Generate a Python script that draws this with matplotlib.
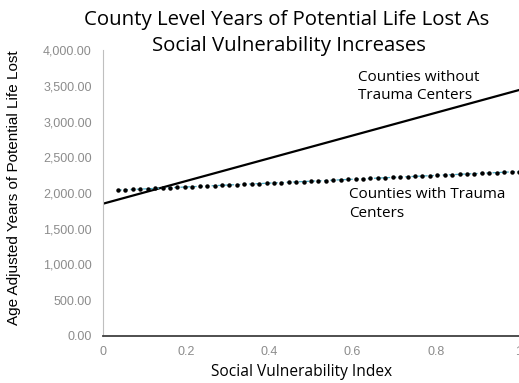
import matplotlib.pyplot as plt
from matplotlib.ticker import FuncFormatter

# trend line end points (SVI vs age adjusted YPLL)
svi_without = [0.0, 1.0]
ypll_without = [1850, 3440]
svi_with = [0.036, 1.0]
ypll_with = [2040, 2300]

x_ticks = [0, 0.2, 0.4, 0.6, 0.8, 1]
x_tick_labels = ["0", "0.2", "0.4", "0.6", "0.8", "1"]
y_ticks = [0, 500, 1000, 1500, 2000, 2500, 3000, 3500, 4000]

plt.rcParams['font.family'] = ['Open Sans', 'DejaVu Sans']
arial = ['Liberation Sans', 'DejaVu Sans']

fig = plt.figure(figsize=(5.19, 3.83), dpi=100)
ax = fig.add_axes([103 / 519, 47 / 383, 416 / 519, 286 / 383])

ax.plot(svi_without, ypll_without, color='black', lw=1.6)
ax.plot(svi_with, ypll_with, color='#4bacc6', lw=0.9, ls=(0, (3, 2)))
n_dots = 55
dx = [svi_with[0] + (svi_with[1] - svi_with[0]) * i / (n_dots - 1) for i in range(n_dots)]
dy = [ypll_with[0] + (ypll_with[1] - ypll_with[0]) * i / (n_dots - 1) for i in range(n_dots)]
ax.plot(dx, dy, ls='none', marker='o', ms=2.2, color='black')

ax.set_xlim(0, 1)
ax.set_ylim(0, 4000)
ax.set_xticks(x_ticks)
ax.set_xticklabels(x_tick_labels)
ax.set_yticks(y_ticks)
ax.yaxis.set_major_formatter(FuncFormatter(lambda v, p: f"{v:,.2f}"))
ax.tick_params(length=0, labelsize=9, labelcolor='#8c8c8c')
ax.tick_params(axis='y', pad=8)
ax.tick_params(axis='x', pad=7)
for lab in ax.get_xticklabels() + ax.get_yticklabels():
    lab.set_family(arial)

for s in ['top', 'right']:
    ax.spines[s].set_visible(False)
ax.spines['left'].set_color('#bfbfbf')
ax.spines['left'].set_linewidth(0.8)
ax.spines['bottom'].set_color('#404040')
ax.spines['bottom'].set_linewidth(1.3)

# two-line title, one text per line
fig.text(287 / 519, 1 - 20 / 383, "County Level Years of Potential Life Lost As",
         ha='center', va='center', fontsize=14.7)
fig.text(289 / 519, 1 - 46 / 383, "Social Vulnerability Increases",
         ha='center', va='center', fontsize=14.7)
fig.text(302 / 519, 1 - 372 / 383, "Social Vulnerability Index", ha='center', va='center', fontsize=11.2)
fig.text(14 / 519, 1 - 188 / 383, "Age Adjusted Years of Potential Life Lost", rotation=90,
         ha='center', va='center', fontsize=11, family=arial)

ax.text(0.613, 3720, "Counties without\nTrauma Centers", fontsize=11, va='top', linespacing=1.3)
ax.text(0.592, 2080, "Counties with Trauma\nCenters", fontsize=11, va='top', linespacing=1.3)

fig.savefig("out.png", dpi=100)
